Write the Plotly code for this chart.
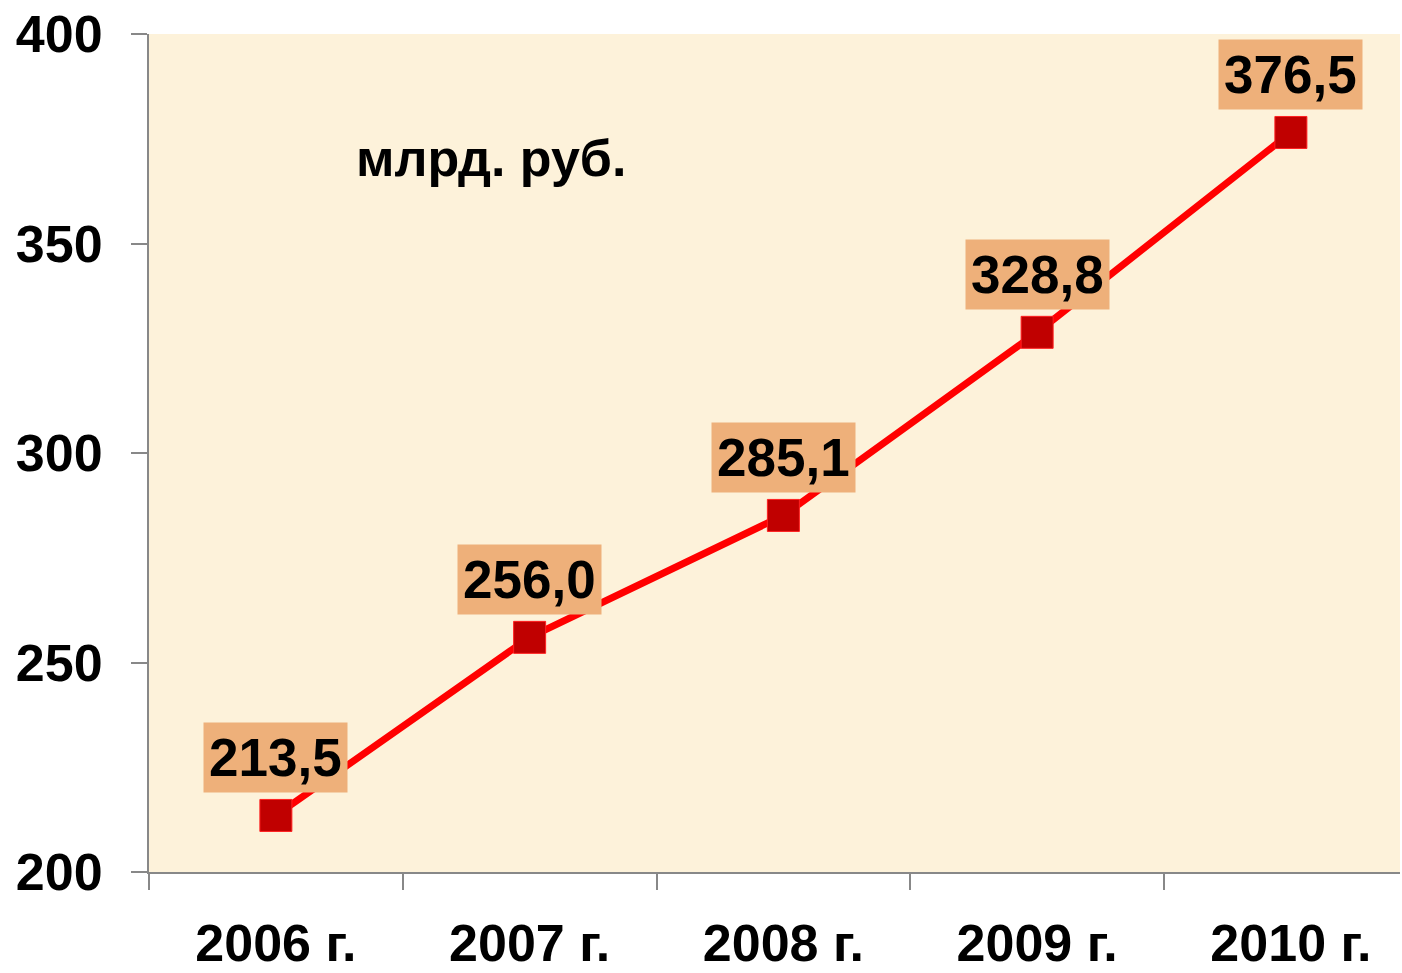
import plotly.graph_objects as go

years = ["2006 г.", "2007 г.", "2008 г.", "2009 г.", "2010 г."]
values = [213.5, 256.0, 285.1, 328.8, 376.5]
value_labels = ["213,5", "256,0", "285,1", "328,8", "376,5"]
y_ticks = [200, 250, 300, 350, 400]

FONT = "Arial, Liberation Sans, sans-serif"

fig = go.Figure()
fig.add_trace(go.Scatter(
    x=years, y=values, mode="lines+markers",
    line=dict(color="#FF0000", width=7),
    marker=dict(symbol="square", size=32, color="#C00000",
                line=dict(color="#FF2020", width=1)),
    cliponaxis=False, showlegend=False, hoverinfo="skip",
))

for xv, yv, lab in zip(years, values, value_labels):
    fig.add_annotation(
        x=xv, y=yv, text=lab, showarrow=False, yshift=58,
        font=dict(family=FONT, size=53, color="black", weight="bold"),
        bgcolor="#EEB07A", borderpad=5,
    )

fig.add_annotation(
    x=0.273, y=0.852, xref="paper", yref="paper", text="млрд. руб.",
    showarrow=False, xanchor="center", yanchor="middle",
    font=dict(family=FONT, size=52, color="black", weight="bold"),
)

axis_font = dict(family=FONT, size=52, color="black", weight="bold")

fig.update_layout(
    width=1402, height=973,
    margin=dict(l=149, r=2, t=34, b=101, pad=0),
    paper_bgcolor="white",
    plot_bgcolor="#FDF2DA",
    xaxis=dict(
        type="category", range=[-0.5, 4.43], automargin=False,
        tickson="boundaries", ticks="outside", ticklen=16, tickwidth=2,
        tickcolor="#888888", showline=True, linecolor="#888888", linewidth=2,
        showgrid=False, zeroline=False, tickfont=axis_font,
        ticklabelstandoff=25,
    ),
    yaxis=dict(
        range=[200, 400], tickvals=y_ticks, ticks="outside", ticklen=16,
        automargin=False,
        tickwidth=2, tickcolor="#888888", showline=True, linecolor="#888888",
        linewidth=2, showgrid=False, zeroline=False, tickfont=axis_font,
        ticklabelstandoff=18,
    ),
)

post = (
    "document.body.style.margin='0';"
    "document.body.style.overflow='hidden';"
    "var gd=document.getElementById('{plot_id}');"
    "Plotly.relayout(gd,{width:1402,height:973});"
)

fig.write_html("out.html", post_script=post, config={"displayModeBar": False})
